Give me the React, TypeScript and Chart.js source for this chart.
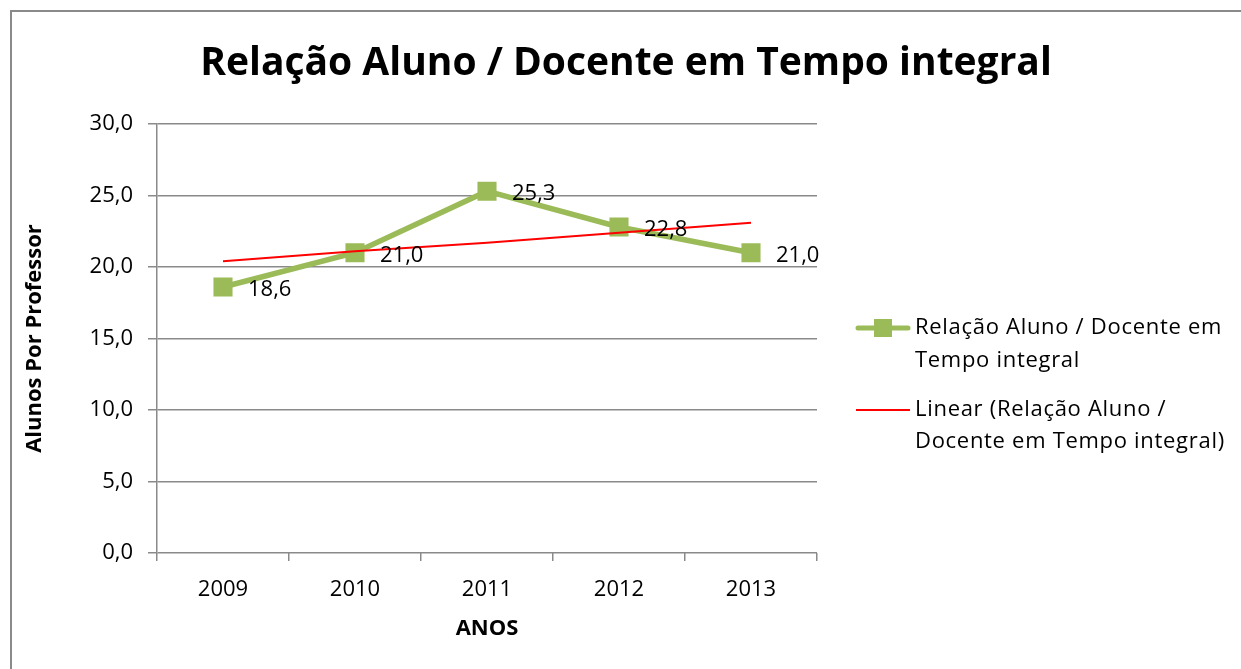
import React, { useEffect, useRef } from 'react';
import { Chart, registerables } from 'chart.js';

Chart.register(...registerables);

const years = ['2009', '2010', '2011', '2012', '2013'];
const ratio = [18.6, 21.0, 25.3, 22.8, 21.0];
const trend = [20.4, 21.1, 21.7, 22.4, 23.1];
const yMin = 0;
const yMax = 30;
const yStep = 5;
const chartTitle = 'Relação Aluno / Docente em Tempo integral';
const seriesName = 'Relação Aluno / Docente em Tempo integral';
const trendName = 'Linear (Relação Aluno / Docente em Tempo integral)';
const seriesLegendLines = ['Relação Aluno / Docente em', 'Tempo integral'];
const trendLegendLines = ['Linear (Relação Aluno /', 'Docente em Tempo integral)'];
const yTitle = 'Alunos Por Professor';
const xTitle = 'ANOS';

const FONT = '"Open Sans", "Noto Sans", sans-serif';
const GREEN = '#9BBB59';
const RED = '#FF0000';
const GRID = '#8a8a8a';

const fmt = (v: number) => v.toFixed(1).replace('.', ',');

const titlePlugin = {
  id: 'centerTitle',
  afterDraw(chart: any) {
    const ctx = chart.ctx;
    ctx.save();
    ctx.font = `bold 39px ${FONT}`;
    ctx.fillStyle = '#000';
    ctx.textAlign = 'center';
    ctx.textBaseline = 'middle';
    ctx.fillText(chartTitle, 626, 64);
    ctx.restore();
  },
};

const labelsPlugin = {
  id: 'valueLabels',
  afterDatasetsDraw(chart: any) {
    const ctx = chart.ctx;
    chart.data.datasets.forEach((ds: any, i: number) => {
      if (ds.label !== seriesName) return;
      const meta = chart.getDatasetMeta(i);
      ctx.save();
      ctx.font = `22px ${FONT}`;
      ctx.fillStyle = '#000';
      ctx.textAlign = 'left';
      ctx.textBaseline = 'middle';
      meta.data.forEach((pt: any, j: number) => {
        ctx.fillText(fmt(ds.data[j]), pt.x + 25, pt.y + 3);
      });
      ctx.restore();
    });
  },
};

const legendPlugin = {
  id: 'sideLegend',
  afterDraw(chart: any) {
    const ctx = chart.ctx;
    const area = chart.chartArea;
    const x0 = area.right + 39;
    const x1 = x0 + 54;
    const tx = x1 + 5;
    ctx.save();
    ctx.font = `22px ${FONT}`;
    try {
      (ctx as any).letterSpacing = '0.7px';
    } catch (e) {}
    ctx.fillStyle = '#000';
    ctx.textAlign = 'left';
    ctx.textBaseline = 'middle';
    let y = 328;
    ctx.strokeStyle = GREEN;
    ctx.lineWidth = 5;
    ctx.lineCap = 'round';
    ctx.beginPath();
    ctx.moveTo(x0 + 2, y);
    ctx.lineTo(x1 - 2, y);
    ctx.stroke();
    ctx.fillStyle = GREEN;
    ctx.fillRect((x0 + x1) / 2 - 9, y - 9, 18, 18);
    ctx.fillStyle = '#000';
    seriesLegendLines.forEach((t, k) => ctx.fillText(t, tx, y + k * 33));
    y = 410;
    ctx.strokeStyle = RED;
    ctx.lineWidth = 2;
    ctx.lineCap = 'butt';
    ctx.beginPath();
    ctx.moveTo(x0, y);
    ctx.lineTo(x1, y);
    ctx.stroke();
    trendLegendLines.forEach((t, k) => ctx.fillText(t, tx, y + k * 32));
    ctx.restore();
  },
};

export default function App() {
  const ref = useRef<HTMLCanvasElement>(null);

  useEffect(() => {
    if (!ref.current) return;
    Chart.defaults.color = '#000';
    const chart = new Chart(ref.current, {
      type: 'line',
      data: {
        labels: years,
        datasets: [
          {
            label: trendName,
            data: trend,
            borderColor: RED,
            backgroundColor: RED,
            borderWidth: 2,
            pointRadius: 0,
            pointHoverRadius: 0,
            tension: 0,
            order: 0,
          },
          {
            label: seriesName,
            data: ratio,
            borderColor: GREEN,
            backgroundColor: GREEN,
            borderWidth: 5.5,
            pointStyle: 'rect',
            pointRadius: 13.5,
            pointBorderWidth: 0,
            pointBackgroundColor: GREEN,
            tension: 0,
            order: 1,
          },
        ],
      },
      options: {
        responsive: false,
        animation: false,
        devicePixelRatio: 1,
        layout: { padding: { left: 0, right: 424, top: 124, bottom: 0 } },
        plugins: {
          legend: { display: false },
          tooltip: { enabled: false },
          title: { display: false },
        },
        scales: {
          x: {
            offset: true,
            grid: {
              offset: true,
              drawOnChartArea: false,
              drawTicks: true,
              tickLength: 8,
              color: GRID,
              lineWidth: 1.5,
            },
            border: { display: false },
            ticks: { font: { family: FONT, size: 22 }, padding: 16, color: '#000' },
            title: {
              display: true,
              text: xTitle,
              color: '#000',
              font: { family: FONT, size: 22, weight: 'bold', lineHeight: 1.2 },
              padding: { top: 0, bottom: 27 },
            },
            afterFit: (s: any) => {
              s.height = 116;
            },
          },
          y: {
            min: yMin,
            max: yMax,
            grid: {
              color: GRID,
              lineWidth: 1.5,
              drawTicks: true,
              tickLength: 9,
            },
            border: { display: true, color: GRID, width: 1.5 },
            ticks: {
              stepSize: yStep,
              font: { family: FONT, size: 22 },
              padding: 15,
              color: '#000',
              callback: (v: any) => fmt(Number(v)),
            },
            title: {
              display: true,
              text: yTitle,
              color: '#000',
              font: { family: FONT, size: 22, weight: 'bold', lineHeight: 1.2 },
              padding: { top: 22, bottom: 0 },
            },
            afterFit: (s: any) => {
              s.width = 157;
            },
          },
        },
      },
      plugins: [labelsPlugin, legendPlugin, titlePlugin],
    });
    return () => chart.destroy();
  }, []);

  return (
    <div style={{ position: 'fixed', left: 0, top: 0, width: 1241, height: 669, overflow: 'hidden', background: '#fff' }}>
      <div
        style={{
          position: 'absolute',
          left: 10,
          top: 10,
          width: 1300,
          height: 800,
          border: '2px solid #8a8a8a',
          boxSizing: 'border-box',
        }}
      />
      <canvas ref={ref} width={1241} height={669} style={{ position: 'absolute', left: 0, top: 0, width: 1241, height: 669 }} />
    </div>
  );
}
